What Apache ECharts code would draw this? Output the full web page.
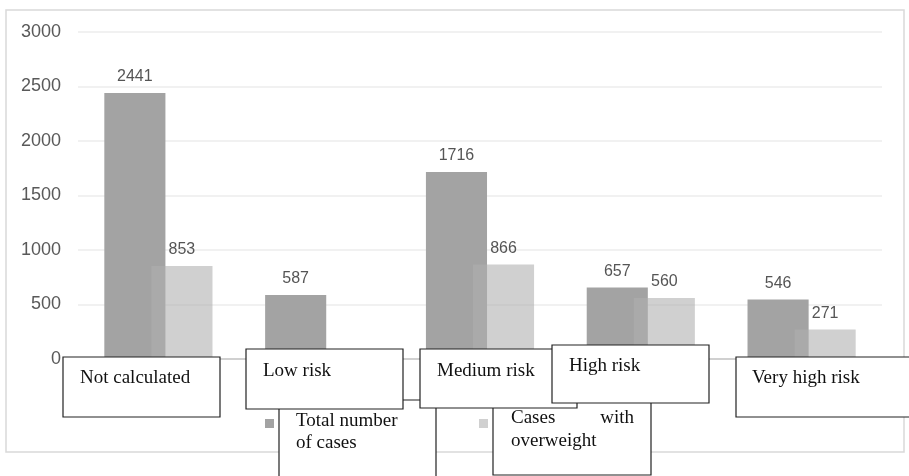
<!DOCTYPE html>
<html>
<head>
<meta charset="utf-8">
<script src="https://cdn.jsdelivr.net/npm/echarts@6/dist/echarts.min.js"></script>
<style>
html,body{margin:0;padding:0;background:#fff;}
#chart{width:909px;height:476px;}
</style>
</head>
<body>
<div id="chart"></div>
<script>
const categories = ["Not calculated", "Low risk", "Medium risk", "High risk", "Very high risk"];
const seriesNames = ["Total number of cases", "Cases with overweight"];
const totalCases = [2441, 587, 1716, 657, 546];
const overweightCases = [853, null, 866, 560, 271];
const yTicks = [0, 500, 1000, 1500, 2000, 2500, 3000];

const chart = echarts.init(document.getElementById('chart'), null, {renderer: 'canvas'});

const serif = '"Liberation Serif", "Times New Roman", serif';
const sans = '"Liberation Sans", Arial, sans-serif';
const boxFont = '19px ' + serif;

let zc = 100;
const graphics = [];
function box(x, y, w, h, texts) {
  zc += 2;
  graphics.push({
    type: 'rect', z: zc, silent: true, shape: {x: x, y: y, width: w, height: h},
    style: {fill: '#fff', stroke: '#222', lineWidth: 1.2}
  });
  texts.forEach(function (t) {
    graphics.push({
      type: 'text', z: zc + 1, silent: true, x: x + t.dx, y: y + t.dy,
      style: {text: t.t, font: boxFont, fill: '#111', align: t.align || 'left', verticalAlign: 'middle'}
    });
  });
}

const w1 = seriesNames[0].split(' ');
const w2 = seriesNames[1].split(' ');

graphics.push({type: 'rect', z: 1, silent: true, shape: {x: 6, y: 10, width: 898, height: 442},
  style: {fill: 'none', stroke: '#d9d9d9', lineWidth: 1.5}});
box(279, 400, 157, 90, [{dx: 17, dy: 21, t: w1.slice(0, 2).join(' ')}, {dx: 17, dy: 43, t: w1.slice(2).join(' ')}]);
box(493, 397, 158, 78, [{dx: 18, dy: 21, t: w2[0]}, {dx: 141, dy: 21, t: w2[1], align: 'right'}, {dx: 18, dy: 44, t: w2.slice(2).join(' ')}]);
box(63, 357, 157, 60, [{dx: 17, dy: 21, t: categories[0]}]);
box(246, 349, 157, 60, [{dx: 17, dy: 22, t: categories[1]}]);
box(420, 349, 157, 59, [{dx: 17, dy: 22, t: categories[2]}]);
box(552, 345, 157, 58, [{dx: 17, dy: 21, t: categories[3]}]);
box(736, 357, 180, 60, [{dx: 16, dy: 21, t: categories[4]}]);

const labelStyle = {show: true, position: 'top', distance: 8, color: '#555', fontSize: 16, fontFamily: sans};

const option = {
  backgroundColor: '#fff',
  animation: false,
  grid: {left: 78, right: 27, top: 32, bottom: 117},
  legend: [
    {data: [seriesNames[0]], left: 260, top: 412, icon: 'rect', itemWidth: 9, itemHeight: 9,
     textStyle: {color: '#595959', fontSize: 13, fontFamily: sans}},
    {data: [seriesNames[1]], left: 474, top: 412, icon: 'rect', itemWidth: 9, itemHeight: 9,
     textStyle: {color: '#595959', fontSize: 13, fontFamily: sans}}
  ],
  xAxis: {
    type: 'category', data: categories,
    axisLine: {lineStyle: {color: '#d0d0d0', width: 2}},
    axisTick: {show: false},
    axisLabel: {show: false}
  },
  yAxis: {
    type: 'value', min: yTicks[0], max: yTicks[yTicks.length - 1], interval: yTicks[1] - yTicks[0],
    axisLine: {show: false}, axisTick: {show: false},
    axisLabel: {color: '#595959', fontSize: 18, fontFamily: sans, margin: 17, formatter: function (v) { return String(v); }},
    splitLine: {lineStyle: {color: '#ececec', width: 1.5}}
  },
  series: [
    {
      name: seriesNames[0], type: 'bar', data: totalCases,
      barWidth: '38%', barGap: '-23%',
      itemStyle: {color: '#a3a3a3'},
      label: labelStyle
    },
    {
      name: seriesNames[1], type: 'bar', data: overweightCases,
      barWidth: '38%',
      itemStyle: {color: 'rgba(175,175,175,0.59)'},
      label: labelStyle
    }
  ],
  graphic: graphics
};
chart.setOption(option);
</script>
</body>
</html>
